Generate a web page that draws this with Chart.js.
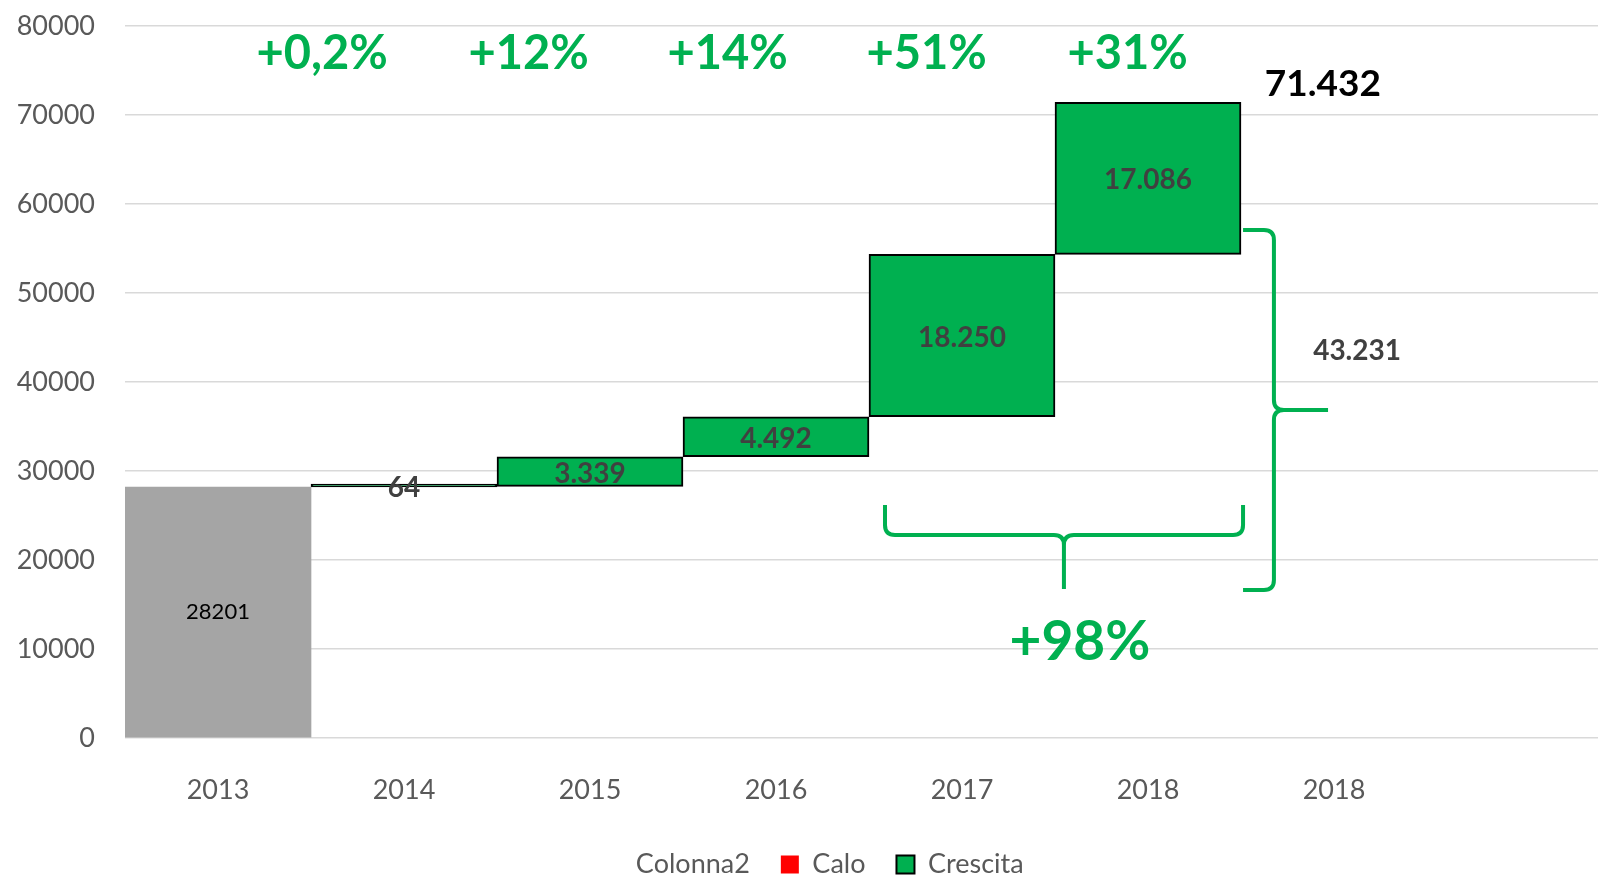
<!DOCTYPE html>
<html><head><meta charset="utf-8">
<script src="https://cdn.jsdelivr.net/npm/chart.js@4.4.1/dist/chart.umd.min.js"></script>
<style>
html,body{margin:0;padding:0;background:#fff;overflow:hidden}
#wrap{width:1598px;height:878px;overflow:hidden;position:relative;background:#fff}
canvas{display:block}
</style></head>
<body><div id="wrap"><canvas id="c" width="1640" height="888"></canvas></div>
<script>
// ---- data ----
const categories = ['2013', '2014', '2015', '2016', '2017', '2018', '2018', ''];
const colonna2 = [28201, 28201, 28265, 31604, 36096, 54346, 71432, null];
const calo = [null, null, null, null, null, null, null, null];
const crescita = [null, 64, 3339, 4492, 18250, 17086, null, null];
const percentLabels = ['+0,2%', '+12%', '+14%', '+51%', '+31%'];
const totalLabel = '71.432';
const deltaLabel = '43.231';
const overallLabel = '+98%';
const yMin = 0, yMax = 80000, yStep = 10000;

// ---- styling / layout ----
const GREEN = '#00B050';
const GRAY_BAR = '#A5A5A5';
const AXIS_TXT = '#595959';
const VAL_TXT = '#404040';
const colonnaColors = categories.map((c, i) => i === 0 ? GRAY_BAR : 'rgba(0,0,0,0)');
const ann = {
  percentX: [0.56, 1.67, 2.74, 3.81, 4.89], percentY: 76850,
  totalX: 5.94, totalY: 73480,
  deltaX: 6.124, deltaY: 43480,
  overallX: 4.634, overallY: 10790,
  hBrace: {left: 3.586, right: 5.511, mid: 4.548, top: 26180, line: 22810, bottom: 16740},
  vBrace: {start: 5.511, vx: 5.677, tip: 5.968, top: 57080, notch: 36850, bottom: 16630}
};

const fmt = v => String(v).replace(/\B(?=(\d{3})+(?!\d))/g, '.');
Chart.defaults.font.family = 'Lato';

const annotations = {
  id: 'wfAnnotations',
  afterDatasetsDraw(chart) {
    const {ctx, scales: {x, y}} = chart;
    ctx.save();
    ctx.textAlign = 'center';
    ctx.textBaseline = 'middle';
    // bar value labels
    const m0 = chart.getDatasetMeta(0);
    const b0 = m0.data[0].getProps(['x', 'y', 'base'], true);
    ctx.font = '22px Lato';
    ctx.fillStyle = '#000';
    ctx.fillText(String(colonna2[0]), b0.x, (b0.y + b0.base) / 2);
    const m2 = chart.getDatasetMeta(2);
    ctx.font = 'bold 28px Lato';
    ctx.fillStyle = VAL_TXT;
    m2.data.forEach((bar, i) => {
      if (crescita[i] == null) return;
      const p = bar.getProps(['x', 'y', 'base'], true);
      ctx.fillText(fmt(crescita[i]), p.x, (p.y + p.base) / 2 + 2);
    });
    // percentages
    ctx.font = 'bold 47px Lato';
    ctx.fillStyle = GREEN;
    percentLabels.forEach((t, i) => ctx.fillText(t, x.getPixelForValue(ann.percentX[i]), y.getPixelForValue(ann.percentY)));
    // total
    ctx.font = 'bold 37px Lato';
    ctx.fillStyle = '#000';
    ctx.fillText(totalLabel, x.getPixelForValue(ann.totalX), y.getPixelForValue(ann.totalY));
    // delta
    ctx.font = 'bold 28px Lato';
    ctx.fillStyle = VAL_TXT;
    ctx.fillText(deltaLabel, x.getPixelForValue(ann.deltaX), y.getPixelForValue(ann.deltaY));
    // overall
    ctx.font = 'bold 55px Lato';
    ctx.fillStyle = GREEN;
    ctx.fillText(overallLabel, x.getPixelForValue(ann.overallX), y.getPixelForValue(ann.overallY));
    // braces
    ctx.strokeStyle = GREEN;
    ctx.lineWidth = 4;
    ctx.lineCap = 'butt';
    ctx.lineJoin = 'round';
    const r = 10;
    const h = ann.hBrace;
    const L = x.getPixelForValue(h.left), R = x.getPixelForValue(h.right), M = x.getPixelForValue(h.mid);
    const T = y.getPixelForValue(h.top), LN = y.getPixelForValue(h.line), B = y.getPixelForValue(h.bottom);
    ctx.beginPath();
    ctx.moveTo(L, T); ctx.lineTo(L, LN - r); ctx.quadraticCurveTo(L, LN, L + r, LN);
    ctx.lineTo(M - r, LN); ctx.quadraticCurveTo(M, LN, M, LN + r); ctx.lineTo(M, B);
    ctx.moveTo(R, T); ctx.lineTo(R, LN - r); ctx.quadraticCurveTo(R, LN, R - r, LN);
    ctx.lineTo(M + r, LN); ctx.quadraticCurveTo(M, LN, M, LN + r);
    ctx.stroke();
    const v = ann.vBrace;
    const S = x.getPixelForValue(v.start), VX = x.getPixelForValue(v.vx), TIP = x.getPixelForValue(v.tip);
    const VT = y.getPixelForValue(v.top), VN = y.getPixelForValue(v.notch), VB = y.getPixelForValue(v.bottom);
    ctx.beginPath();
    ctx.moveTo(S, VT); ctx.lineTo(VX - r, VT); ctx.quadraticCurveTo(VX, VT, VX, VT + r);
    ctx.lineTo(VX, VN - r); ctx.quadraticCurveTo(VX, VN, VX + r, VN); ctx.lineTo(TIP, VN);
    ctx.moveTo(VX + r, VN); ctx.quadraticCurveTo(VX, VN, VX, VN + r);
    ctx.lineTo(VX, VB - r); ctx.quadraticCurveTo(VX, VB, VX - r, VB); ctx.lineTo(S, VB);
    ctx.stroke();
    ctx.restore();
  }
};

new Chart(document.getElementById('c'), {
  type: 'bar',
  data: {
    labels: categories,
    datasets: [
      {label: 'Colonna2', data: colonna2, backgroundColor: colonnaColors, borderWidth: 0},
      {label: 'Calo', data: calo, backgroundColor: '#FF0000', borderWidth: 0},
      {label: 'Crescita', data: crescita, backgroundColor: GREEN, borderColor: '#000000',
       borderWidth: 2, borderSkipped: false, minBarLength: 3}
    ]
  },
  options: {
    responsive: false,
    animation: false,
    datasets: {bar: {categoryPercentage: 1, barPercentage: 1}},
    layout: {padding: {top: 26, left: 15, right: 27, bottom: 0}},
    plugins: {
      tooltip: {enabled: false},
      legend: {
        position: 'bottom',
        labels: {
          color: AXIS_TXT, font: {size: 27}, boxWidth: 18, boxHeight: 18, padding: 31,
          generateLabels: (chart) => {
            const fills = ['rgba(0,0,0,0)', '#FF0000', GREEN];
            const strokes = ['rgba(0,0,0,0)', '#FF0000', '#000000'];
            const widths = [0, 0, 2];
            return chart.data.datasets.map((ds, i) => ({
              text: ds.label, fillStyle: fills[i], strokeStyle: strokes[i], lineWidth: widths[i],
              fontColor: AXIS_TXT, datasetIndex: i, hidden: false
            }));
          }
        }
      }
    },
    scales: {
      x: {
        stacked: true,
        grid: {display: false, drawTicks: false},
        border: {display: false},
        ticks: {color: AXIS_TXT, font: {size: 27}, padding: 36, maxRotation: 0, autoSkip: false},
        afterFit: s => { s.height = 82; }
      },
      y: {
        stacked: true,
        min: yMin, max: yMax,
        grid: {color: '#D9D9D9', lineWidth: 1.5, drawTicks: false},
        border: {display: false},
        ticks: {color: AXIS_TXT, font: {size: 27}, padding: 30, stepSize: yStep, callback: v => String(v)},
        afterFit: s => { s.width = 110; s.paddingTop = 0; s.paddingBottom = 0; }
      }
    }
  },
  plugins: [annotations]
});
</script></body></html>
